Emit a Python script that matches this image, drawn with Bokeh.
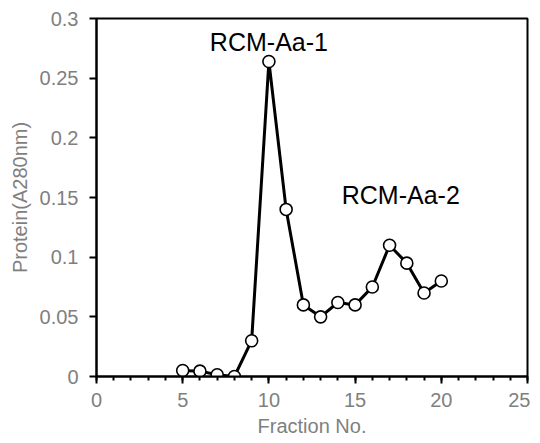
from bokeh.plotting import figure
from bokeh.models import Range1d, FixedTicker, ColumnDataSource
from bokeh.core.properties import value
from bokeh.embed import file_html
from bokeh.resources import INLINE

# ---- data ----
fraction = [5, 6, 7, 8, 9, 10, 11, 12, 13, 14, 15, 16, 17, 18, 19, 20]
protein = [0.005, 0.0045, 0.0015, 0.0, 0.030, 0.264, 0.140, 0.060, 0.050,
           0.062, 0.060, 0.075, 0.110, 0.095, 0.070, 0.080]
peak_names = ["RCM-Aa-1", "RCM-Aa-2"]
peak_x = [10.0, 17.65]
peak_y = [0.280, 0.152]
x_ticks = [0, 5, 10, 15, 20, 25]
y_ticks = [0, 0.05, 0.1, 0.15, 0.2, 0.25, 0.3]
y_tick_labels = {0: "0", 0.05: "0.05", 0.1: "0.1", 0.15: "0.15",
                 0.2: "0.2", 0.25: "0.25", 0.3: "0.3"}

FONT = "Liberation Sans"
GREY = "#7f7f7f"

p = figure(width=530, height=439,
           min_border_left=96, min_border_right=3,
           min_border_top=18, min_border_bottom=63,
           x_range=Range1d(0, 25), y_range=Range1d(0, 0.3),
           output_backend="svg", toolbar_location=None, tools="")

p.background_fill_color = "white"
p.border_fill_color = "white"
p.outline_line_color = "black"
p.outline_line_width = 2
p.xgrid.visible = False
p.ygrid.visible = False

src = ColumnDataSource(dict(x=fraction, y=protein))
p.line("x", "y", source=src, line_color="black", line_width=3)
p.scatter("x", "y", source=src, size=12, marker="circle",
          fill_color="white", line_color="black", line_width=1.6)

lab = ColumnDataSource(dict(x=peak_x, y=peak_y, t=peak_names))
p.text("x", "y", text="t", source=lab, text_font=value(FONT),
       text_font_size="25px", text_color="black",
       text_align="center", text_baseline="middle")

# x axis
xa = p.xaxis[0]
xa.ticker = FixedTicker(ticks=x_ticks, minor_ticks=list(range(0, 26)))
xa.axis_line_color = "black"
xa.axis_line_width = 2
xa.major_tick_line_color = "black"
xa.major_tick_line_width = 2
xa.major_tick_in = 0
xa.major_tick_out = 7
xa.minor_tick_line_color = "black"
xa.minor_tick_line_width = 2
xa.minor_tick_in = 0
xa.minor_tick_out = 4
xa.major_label_text_font = FONT
xa.major_label_text_font_size = "20px"
xa.major_label_text_color = GREY
xa.major_label_standoff = 9
xa.axis_label = "Fraction No."
xa.axis_label_text_font = FONT
xa.axis_label_text_font_size = "20px"
xa.axis_label_text_font_style = "normal"
xa.axis_label_text_color = GREY
xa.axis_label_standoff = 5

# y axis
ya = p.yaxis[0]
ya.ticker = FixedTicker(ticks=y_ticks, minor_ticks=[])
ya.major_label_overrides = y_tick_labels
ya.axis_line_color = "black"
ya.axis_line_width = 2
ya.major_tick_line_color = "black"
ya.major_tick_line_width = 2
ya.major_tick_in = 0
ya.major_tick_out = 7
ya.minor_tick_line_color = None
ya.major_label_text_font = FONT
ya.major_label_text_font_size = "20px"
ya.major_label_text_color = GREY
ya.major_label_standoff = 11
ya.axis_label = "Protein(A280nm)"
ya.axis_label_text_font = FONT
ya.axis_label_text_font_size = "20px"
ya.axis_label_text_font_style = "normal"
ya.axis_label_text_color = GREY
ya.axis_label_standoff = 6

open("out.html", "w").write(file_html(p, INLINE))
